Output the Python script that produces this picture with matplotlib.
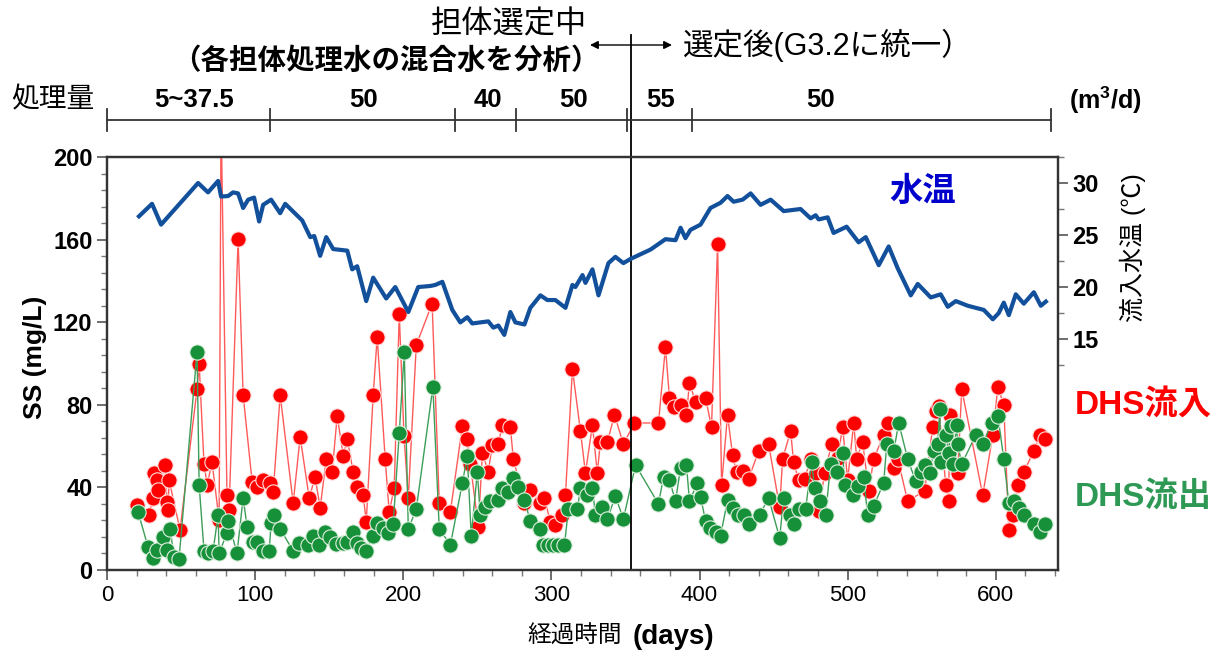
import numpy as np
import matplotlib
matplotlib.use('Agg')
import matplotlib.pyplot as plt
from matplotlib import transforms
from matplotlib.lines import Line2D
from matplotlib.ticker import MultipleLocator, FixedLocator

plt.rcParams['font.family'] = ['Liberation Sans', 'Noto Sans CJK JP']
plt.rcParams['mathtext.fontset'] = 'custom'
plt.rcParams['mathtext.rm'] = 'Liberation Sans'
plt.rcParams['mathtext.bf'] = 'Liberation Sans:bold'

# water temperature (right axis)
temp_day = [21.6, 30.4, 36.5, 61.5, 68.2, 75.0, 77.0, 81.8, 85.1, 88.5, 91.9, 95.3, 99.3, 102.7,
            105.4, 110.8, 116.9, 120.3, 131.8, 137.2, 139.9, 143.9, 148.0, 152.7, 162.2, 165.5,
            168.9, 175.0, 179.7, 188.5, 194.6, 203.4, 210.1, 218.2, 221.6, 226.4, 233.1, 238.5,
            243.2, 246.6, 257.4, 260.8, 264.2, 268.2, 272.3, 275.7, 281.8, 285.8, 292.6, 297.3,
            302.7, 309.5, 314.2, 316.2, 321.0, 323.0, 327.7, 331.8, 338.5, 343.2, 348.6, 353.4,
            366.9, 377.0, 383.8, 387.2, 390.5, 393.9, 400.7, 407.4, 414.2, 418.9, 423.0, 429.1,
            434.5, 441.2, 448.0, 456.8, 468.2, 475.0, 478.4, 480.4, 486.5, 490.5, 499.3, 507.4,
            512.2, 521.0, 527.7, 533.8, 542.6, 547.3, 556.1, 562.8, 567.6, 573.0, 581.1, 591.9,
            598.0, 602.0, 605.4, 608.8, 613.5, 618.9, 625.7, 630.4, 633.8]
temp_val = [26.8, 28.0, 26.0, 30.0, 29.1, 30.2, 28.7, 28.75, 29.1, 29.0, 27.6, 28.4, 28.6, 26.3,
            27.9, 28.4, 27.1, 28.0, 26.4, 24.8, 24.9, 23.0, 24.8, 23.65, 23.5, 21.7,
            22.0, 18.65, 20.9, 18.9, 20.0, 17.6, 20.0, 20.1, 20.2, 20.5, 17.8, 16.6,
            17.1, 16.5, 16.7, 16.1, 16.3, 15.4, 17.6, 16.6, 16.4, 18.0, 19.2, 18.75,
            18.75, 18.0, 20.2, 20.0, 21.15, 20.4, 21.7, 19.2, 22.3, 22.9, 22.3, 22.7,
            23.6, 24.6, 24.5, 25.7, 24.7, 25.5, 26.0, 27.6, 28.1, 28.75, 28.2, 28.4,
            29.0, 27.9, 28.4, 27.3, 27.5, 26.6, 26.9, 26.5, 26.7, 25.2, 25.8, 24.3,
            24.8, 22.1, 23.9, 21.8, 19.2, 20.3, 19.0, 19.3, 18.1, 18.65, 18.2, 17.8,
            16.9, 17.5, 18.5, 17.3, 19.3, 18.4, 19.5, 18.2, 18.6]

# DHS influent SS
in_day = [20.3, 28.4, 31.1, 31.8, 33.8, 34.5, 39.2, 40.5, 41.2, 41.9, 49.3, 60.8, 62.2, 65.5,
          67.6, 70.9, 75.7, 77.0, 81.0, 82.4, 88.5, 91.9, 98.0, 101.4, 105.4, 110.0, 112.2,
          116.9, 125.7, 130.4, 136.5, 140.5, 143.9, 148.0, 152.0, 155.4, 159.5, 162.2, 166.2,
          168.9, 173.0, 175.0, 179.7, 182.4, 187.8, 190.5, 193.9, 197.3, 200.5, 203.4, 208.8,
          219.5, 224.3, 231.8, 239.9, 243.2, 245.3, 250.7, 253.4, 257.4, 260.1, 264.2, 266.9,
          272.3, 274.3, 281.8, 285.8, 292.6, 295.3, 299.3, 302.7, 307.4, 309.5, 314.2, 319.6,
          323.0, 327.7, 331.0, 333.1, 337.8, 342.6, 348.6, 356.1, 372.3, 377.0, 379.7, 383.1,
          387.2, 391.2, 393.2, 397.3, 404.1, 408.1, 412.2, 414.9, 418.9, 422.3, 425.0, 429.1,
          433.1, 439.9, 446.6, 454.1, 456.1, 461.5, 463.5, 466.9, 470.9, 475.0, 478.4, 480.4,
          484.5, 489.2, 493.2, 496.6, 500.0, 504.1, 506.1, 510.1, 514.2, 517.6, 524.3, 527.0,
          531.1, 533.8, 540.5, 552.0, 557.4, 559.5, 561.5, 566.2, 568.2, 568.9, 574.3, 577.0,
          591.2, 598.0, 601.4, 605.4, 608.8, 611.5, 614.9, 618.9, 625.7, 629.7, 633.1]
in_ss = [31.5, 26.6, 34.9, 47.0, 43.6, 38.7, 50.8, 32.9, 29.0, 43.6, 19.4, 87.6, 100.0, 51.3,
         41.2, 52.3, 24.2, 220.0, 36.3, 29.0, 160.3, 84.7, 42.6, 40.2, 43.6, 42.1, 37.8,
         84.7, 32.4, 64.4, 34.9, 45.0, 30.0, 53.8, 47.5, 74.6, 55.2, 63.4, 47.5,
         40.2, 36.3, 23.2, 84.7, 112.8, 53.8, 28.1, 39.7, 124.0, 64.9, 34.9, 109.0,
         129.0, 32.4, 28.1, 69.7, 63.4, 51.3, 20.8, 56.7, 47.5, 60.5, 61.0, 70.2,
         69.2, 53.8, 32.4, 38.7, 32.4, 34.9, 23.2, 21.8, 26.6, 36.3, 97.3, 67.3,
         47.0, 70.2, 47.0, 62.0, 62.0, 75.1, 61.0, 71.2, 71.2, 108.0, 83.3, 78.9,
         79.9, 75.1, 90.6, 81.4, 83.3, 69.2, 157.9, 41.2, 75.1, 55.7, 47.5, 47.9,
         44.1, 57.6, 61.0, 30.5, 53.8, 67.3, 52.3, 43.6, 44.1, 53.8, 47.0, 28.6,
         47.0, 61.0, 54.2, 69.2, 43.6, 71.2, 53.8, 62.0, 38.3, 53.8, 65.4, 71.2,
         49.4, 53.8, 33.4, 38.3, 69.2, 77.0, 79.4, 41.2, 33.4, 75.1, 47.0, 87.6,
         36.3, 65.4, 88.6, 79.9, 19.4, 26.6, 41.2, 47.5, 57.6, 65.4, 63.4]

# DHS effluent SS
out_day = [21.0, 27.7, 31.1, 33.8, 37.8, 40.5, 42.6, 45.3, 48.6, 60.8, 62.2, 65.5, 68.2, 71.6,
           75.0, 75.7, 81.0, 81.8, 87.8, 91.9, 94.6, 98.6, 101.4, 105.4, 109.5, 110.8, 112.8,
           116.9, 125.7, 129.7, 135.8, 139.2, 143.2, 147.3, 150.7, 154.7, 159.5, 162.2, 166.2,
           168.9, 171.6, 175.0, 179.7, 182.4, 186.5, 189.9, 193.2, 197.3, 200.7, 203.4, 208.8,
           220.0, 224.3, 231.8, 239.9, 243.2, 245.9, 250.0, 252.0, 255.4, 258.8, 264.2, 266.9,
           270.9, 274.3, 277.7, 281.8, 285.8, 292.6, 294.6, 297.9, 301.4, 304.7, 308.8, 311.5,
           317.6, 319.6, 324.3, 327.7, 329.7, 334.5, 337.8, 343.2, 348.6, 356.8, 372.3, 375.7,
           379.7, 383.8, 387.2, 391.2, 393.2, 398.6, 400.7, 404.1, 407.4, 410.8, 414.2, 418.9,
           422.3, 425.7, 429.7, 433.1, 440.5, 446.6, 454.1, 456.8, 460.8, 463.5, 466.9, 471.6,
           475.7, 477.7, 481.1, 485.1, 488.5, 492.6, 496.6, 498.0, 503.4, 506.8, 510.8, 513.5,
           517.6, 524.3, 526.4, 531.1, 534.5, 540.5, 545.9, 549.3, 552.0, 555.4, 558.1, 560.8,
           562.2, 562.8, 566.2, 568.2, 569.6, 570.9, 573.6, 574.3, 577.0, 586.5, 591.2, 597.3,
           601.4, 605.4, 608.8, 612.2, 615.5, 618.9, 625.7, 629.7, 633.1]
out_ss = [28.1, 11.1, 5.8, 9.7, 16.0, 9.7, 19.9, 6.3, 5.3, 105.6, 41.2, 9.2, 8.2, 9.2,
          26.6, 8.2, 17.9, 23.7, 8.2, 34.9, 20.8, 13.6, 13.6, 9.2, 9.2, 22.8, 26.6,
          19.9, 9.2, 13.1, 12.1, 16.5, 12.1, 18.4, 16.0, 12.6, 13.1, 13.6, 18.4,
          13.1, 10.7, 9.2, 16.5, 22.8, 20.3, 17.9, 22.3, 66.3, 105.6, 19.9, 29.5,
          88.6, 19.9, 12.1, 42.1, 55.2, 16.5, 47.5, 26.6, 30.5, 33.4, 33.9, 39.7,
          37.8, 44.6, 40.2, 33.9, 23.7, 19.9, 12.1, 12.1, 12.1, 12.1, 12.1, 29.5,
          29.5, 39.7, 36.3, 39.7, 26.6, 30.5, 24.7, 35.8, 24.7, 50.8, 32.0, 45.0,
          43.6, 33.4, 49.4, 50.8, 33.4, 42.1, 35.4, 23.7, 20.3, 18.4, 16.5, 33.9,
          30.0, 26.6, 26.6, 22.3, 26.6, 34.9, 15.5, 34.9, 26.6, 22.3, 29.5, 29.5,
          52.3, 39.7, 33.4, 26.6, 51.3, 47.5, 56.7, 41.2, 36.3, 40.7, 45.0, 26.6,
          31.0, 42.1, 61.0, 57.6, 71.2, 53.8, 43.1, 47.5, 50.8, 47.0, 57.6, 61.0,
          78.0, 52.3, 65.4, 56.7, 69.7, 51.3, 70.2, 61.0, 51.3, 65.4, 61.0, 71.2,
          74.6, 53.8, 32.4, 33.4, 30.0, 26.6, 22.3, 18.4, 22.3]

# treatment volume periods (m3/d)
period_bounds = [0, 110, 235, 276, 351, 395, 637]
period_labels = ['5~37.5', '50', '40', '50', '55', '50']
switch_day = 354

W, H = 1216, 658


def fx(px):
    return px / W


def fy(py):
    return 1 - py / H


fig = plt.figure(figsize=(W / 100, H / 100), dpi=100)
ax = fig.add_axes([fx(107), fy(570), (1058 - 107) / W, (570 - 157) / H])
ax2 = ax.twinx()

ax.plot(in_day, in_ss, '-o', color='#ff5a5a', lw=1, ms=11, mfc='#ff0000', mec='#ffe0e0',
        mew=0.8, zorder=3)
ax.plot(out_day, out_ss, '-o', color='#3c9e58', lw=1, ms=11, mfc='#17903a', mec='#e0f0e0',
        mew=0.8, zorder=4)
ax2.plot(temp_day, temp_val, '-', color='#12509c', lw=3)

ax.set_xlim(0, 642)
ax.set_ylim(0, 200)
ax2.set_ylim(-7.2, 32.5)

ax.xaxis.set_major_locator(MultipleLocator(100))
ax.xaxis.set_minor_locator(MultipleLocator(20))
ax.set_yticks([0, 40, 80, 120, 160, 200])
ax.set_yticklabels(['0', '40', '80', '120', '160', '200'], fontweight='bold')
ax.yaxis.set_minor_locator(MultipleLocator(8))
ax2.set_yticks([15, 20, 25, 30])
ax2.set_yticklabels(['15', '20', '25', '30'], fontweight='bold')
ax2.yaxis.set_minor_locator(FixedLocator([12.5, 17.5, 22.5, 27.5, 32.5]))

ax.tick_params(axis='x', which='major', length=7, width=1.2, labelsize=16, color='#555555')
ax.tick_params(axis='x', which='minor', length=4, width=1, color='#777777')
ax.tick_params(axis='y', which='major', length=7, width=1.2, labelsize=17, color='#555555')
ax.tick_params(axis='y', which='minor', length=4, width=1, color='#777777')
ax2.tick_params(axis='y', which='major', length=7, width=1.2, labelsize=17, color='#555555')
ax2.tick_params(axis='y', which='minor', length=4, width=1, color='#777777')

for a in (ax, ax2):
    for s in a.spines.values():
        s.set_linewidth(1.6)
        s.set_color('#333333')

# divider between selection phases
ax.plot([switch_day, switch_day], [0, 259], color='black', lw=1.3, clip_on=False, zorder=5)

# treatment volume bar
trans = transforms.blended_transform_factory(ax.transData, fig.transFigure)
fig.add_artist(Line2D([period_bounds[0], period_bounds[-1]], [fy(120), fy(120)],
                      transform=trans, color='#333333', lw=1.3))
for b in period_bounds:
    fig.add_artist(Line2D([b, b], [fy(109), fy(131)], transform=trans, color='#333333', lw=1.3))
label_pos = [59, 173, 257, 315, 374, 482]
for xp, lab in zip(label_pos, period_labels):
    fig.text(xp, fy(100), lab, transform=trans, ha='center', va='center',
             fontsize=18.5, fontweight='bold')

fig.text(fx(53), fy(100), '処理量', ha='center', va='center', fontsize=20)
fig.text(fx(1105), fy(100), r'$\mathbf{(m^3/d)}$', ha='center', va='center', fontsize=18)

fig.text(fx(509), fy(25), '担体選定中', ha='center', va='center', fontsize=22.5)
fig.text(fx(386), fy(61), '（各担体処理水の混合水を分析）', ha='center', va='center',
         fontsize=20.5, fontweight='bold')
ax.annotate('', xy=(fx(590), fy(45)), xytext=(fx(672), fy(45)), xycoords='figure fraction',
            arrowprops=dict(arrowstyle='<|-|>', color='black', lw=1, mutation_scale=12,
                            shrinkA=0, shrinkB=0))
fig.text(fx(683), fy(45), '選定後(G3.2に統一）', ha='left', va='center', fontsize=22)

fig.text(fx(923), fy(192), '水温', color='#0000cc', fontsize=24, fontweight='bold',
         ha='center', va='center')
fig.text(fx(1143), fy(405), 'DHS流入', color='#ff0000', fontsize=24, fontweight='bold',
         ha='center', va='center')
fig.text(fx(1143), fy(497), 'DHS流出', color='#2e9955', fontsize=24, fontweight='bold',
         ha='center', va='center')

fig.text(fx(35), fy(357), 'SS (mg/L)', rotation=90, ha='center', va='center',
         fontsize=19, fontweight='bold')
fig.text(fx(1133), fy(248), '流入水温 (℃)', rotation=90, ha='center', va='center', fontsize=18)
fig.text(fx(622), fy(637), '経過時間', ha='right', va='center', fontsize=17)
fig.text(fx(633), fy(637), '(days)', ha='left', va='center', fontsize=20, fontweight='bold')

fig.savefig('out.png', dpi=100)
